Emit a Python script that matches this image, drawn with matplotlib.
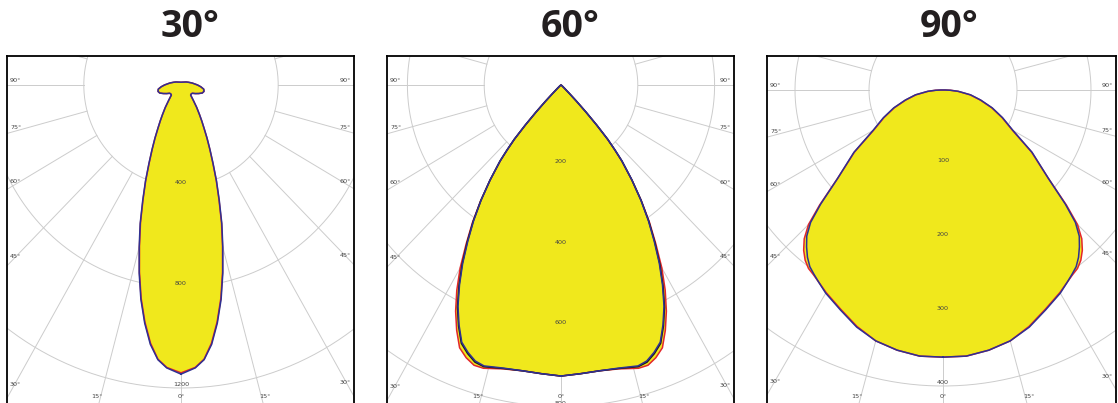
import numpy as np
import matplotlib.pyplot as plt

W, H = 1118, 403

# ----- data: luminous intensity (cd) vs angle from nadir (deg) -----
titles = ["30°", "60°", "90°"]

ang_30 = [0, 3, 5, 7, 9, 11, 13, 15, 17, 19, 21, 23, 25, 27, 29, 31, 33, 36, 40, 45,
          50, 55, 60, 65, 70, 75, 80, 85, 90, 95, 100, 110, 120, 140, 160, 180]
red_30 = [1140, 1120, 1090, 1030, 950, 860, 760, 660, 570, 480, 405, 335, 280, 235, 195, 165, 140, 110, 78, 56,
          55, 57, 68, 80, 93, 98, 95, 82, 68, 55, 46, 32, 24, 15, 12, 11]
blue_30 = [1145, 1122, 1092, 1035, 955, 865, 765, 665, 575, 484, 408, 338, 282, 236, 196, 166, 140, 110, 78, 56,
           55, 57, 68, 80, 93, 98, 95, 82, 68, 55, 46, 32, 24, 15, 12, 11]
rings_30 = [400, 800, 1200, 1600]

ang_60 = [0, 4, 8, 12, 16, 18, 20, 22, 24, 26, 28, 30, 32, 34, 36, 38, 40, 41, 42, 43,
          44, 45, 46, 48, 52, 60, 90, 180]
red_60 = [724, 720, 718, 722, 733, 733, 722, 705, 668, 626, 578, 525, 466, 412, 356, 300, 245, 212, 180, 135,
          92, 55, 30, 12, 4, 1, 0, 0]
blue_60 = [724, 720, 718, 720, 727, 722, 708, 690, 653, 612, 563, 512, 458, 407, 354, 300, 247, 214, 182, 137,
           94, 57, 31, 12, 4, 1, 0, 0]
black_60 = [724, 720, 718, 721, 729, 725, 711, 693, 656, 615, 566, 515, 461, 409, 355, 300, 247, 214, 182, 137,
            94, 57, 31, 12, 4, 1, 0, 0]
rings_60 = [200, 400, 600, 800]

ang_90 = [0, 5, 10, 15, 20, 25, 30, 33, 35, 37, 39, 41, 43, 45, 47, 50, 55, 60, 65, 70,
          75, 80, 85, 88, 90, 180]
red_90 = [361, 361, 357, 351, 340, 327, 316, 309, 305, 302, 296, 287, 275, 257, 228, 186, 146, 108, 88, 70,
          52, 37, 20, 10, 3, 0]
blue_90 = [361, 361, 357, 351, 341, 328, 317, 309, 304, 299, 291, 281, 270, 253, 226, 186, 147, 109, 89, 71,
           53, 38, 21, 10, 3, 0]
rings_90 = [100, 200, 300, 400, 500]

# panel frames in pixels: left, right, centre x, centre y, px per cd (x, y)
frames = [
    dict(left=7, right=354, cx=181, cy=85, hs=0.243, vs=0.2525),
    dict(left=387, right=734, cx=561, cy=85, hs=0.384, vs=0.402),
    dict(left=767, right=1116, cx=943, cy=90, hs=0.74, vs=0.74),
]
top_px, bot_px = 56, 410

series = [
    (ang_30, [red_30, blue_30], rings_30),
    (ang_60, [red_60, black_60, blue_60], rings_60),
    (ang_90, [red_90, blue_90], rings_90),
]

YELLOW = "#f0e81c"
GRID = "#cccccc"
LBL = "#444444"

fig = plt.figure(figsize=(W / 100, H / 100), dpi=100)


def outline(ang, vals):
    th = np.radians(ang)
    I = np.array(vals, dtype=float)
    xr = I * np.sin(th)
    yr = -I * np.cos(th)
    xs = np.concatenate([xr, -xr[::-1]])
    ys = np.concatenate([yr, yr[::-1]])
    return xs, ys


for k, (fr, (ang, curves, rings)) in enumerate(zip(frames, series)):
    ax = fig.add_axes([fr["left"] / W, 1 - bot_px / H,
                       (fr["right"] - fr["left"]) / W, (bot_px - top_px) / H])
    hs, vs = fr["hs"], fr["vs"]
    x0 = (fr["left"] - fr["cx"]) / hs
    x1 = (fr["right"] - fr["cx"]) / hs
    y0 = (fr["cy"] - bot_px) / vs
    y1 = (fr["cy"] - top_px) / vs
    ax.set_xlim(x0, x1)
    ax.set_ylim(y0, y1)
    ax.set_xticks([])
    ax.set_yticks([])
    for side in ["top", "left", "right"]:
        ax.spines[side].set_linewidth(1.3)
        ax.spines[side].set_color("black")
    ax.spines["bottom"].set_visible(False)

    # polar grid
    t = np.linspace(0, 2 * np.pi, 600)
    for r in rings:
        ax.plot(r * np.sin(t), r * np.cos(t), color=GRID, lw=0.7, zorder=1)
    r0, r1 = rings[0], rings[-1] * 4
    for a in range(0, 360, 15):
        ar = np.radians(a)
        ax.plot([r0 * np.sin(ar), r1 * np.sin(ar)], [-r0 * np.cos(ar), -r1 * np.cos(ar)],
                color=GRID, lw=0.7, zorder=1)

    # intensity curves
    xs, ys = outline(ang, curves[0])
    ax.fill(xs, ys, color=YELLOW, lw=0, zorder=2)
    cols = ["#e3262b", "#1a1a1a", "#2e3192"] if len(curves) == 3 else ["#e3262b", "#2e3192"]
    for j, (vals, c) in enumerate(zip(curves, cols)):
        xs, ys = outline(ang, vals)
        ax.plot(xs, ys, color=c, lw=1.1, zorder=3 + j)

    # ring labels (the ones reaching the bottom edge are cut, as in the original)
    for r in rings:
        if fr["cy"] + r * vs - 3.5 > H + 4:
            continue
        ax.text(0, -r + 3.5 / vs, str(r), ha="center", va="center", fontsize=4.6,
                color=LBL, zorder=8, clip_on=True)

    # angle labels on side edges
    for a in [90, 75, 60, 45, 30]:
        ar = np.radians(a)
        for xe, sgn, ha in [(x0, -1, "left"), (x1, 1, "right")]:
            xin = xe - sgn * 5 / hs
            r = abs(xin) / np.sin(ar)
            yl = -r * np.cos(ar) + 4.5 / vs
            ax.text(xe - sgn * 3 / hs, yl, f"{a}°", ha=ha, va="center",
                    fontsize=4.6, color=LBL, zorder=8)
    # angle labels at bottom
    yb = (fr["cy"] - 396) / vs
    ax.text(0, yb, "0°", ha="center", va="center", fontsize=4.6, color=LBL, zorder=8)
    rb = (410 - fr["cy"]) / vs / np.cos(np.radians(15))
    for sgn in [-1, 1]:
        ax.text(sgn * rb * np.sin(np.radians(15)), yb, "15°", ha="center", va="center",
                fontsize=4.6, color=LBL, zorder=8)

    # title
    tx = [190, 570, 949.5][k]
    fig.text(tx / W, 1 - 27 / H, titles[k], ha="center", va="center",
             fontsize=27, fontweight="bold", family=["Open Sans", "DejaVu Sans"],
             color="#231f20")

fig.savefig("out.png", dpi=100)
